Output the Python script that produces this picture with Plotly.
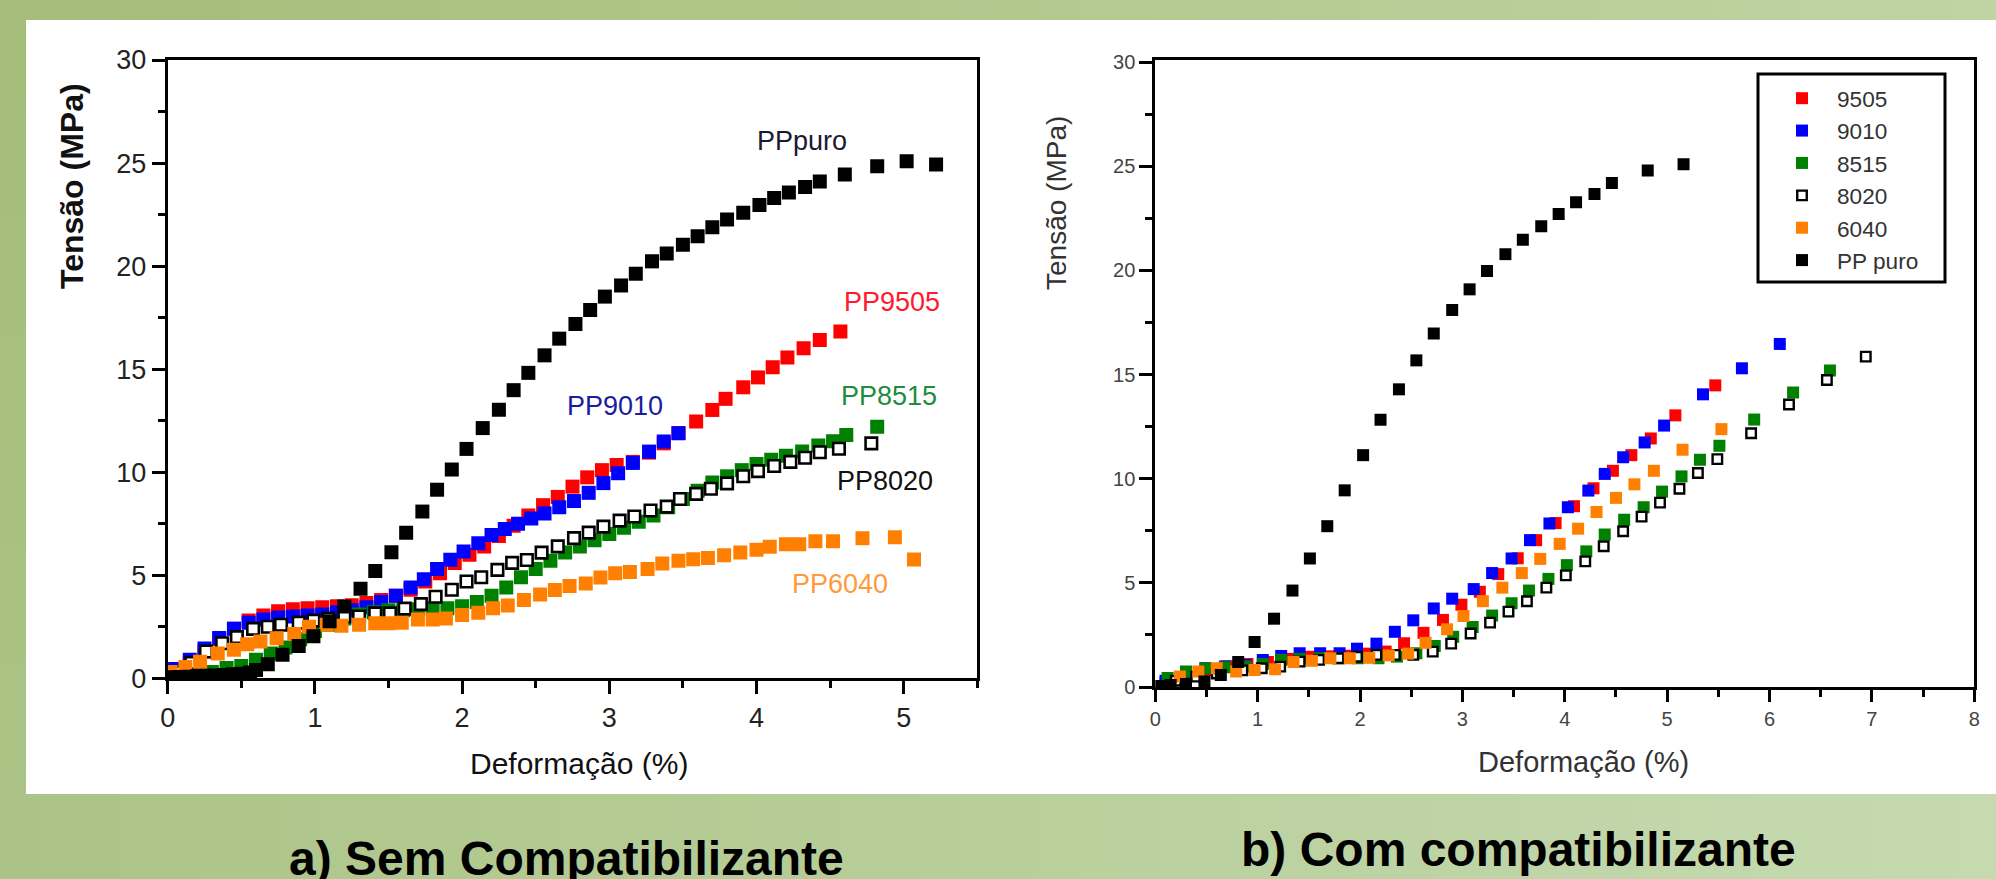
import plotly.graph_objects as go

# ---------------- (a) Sem compatibilizante ----------------
a_9505_x = [0.05,0.15,0.25,0.35,0.45,0.55,0.65,0.75,0.85,0.95,1.05,1.15,1.25,1.35,1.45,1.55,1.65,1.75,1.85,1.95,2.05,2.15,2.25,2.35,2.45,2.55,2.65,2.75,2.85,2.95,3.05,3.16,3.27,3.37,3.47,3.59,3.7,3.79,3.91,4.01,4.11,4.21,4.32,4.43,4.57]
a_9505_y = [0.35,0.75,1.3,1.9,2.4,2.8,3.05,3.25,3.35,3.4,3.45,3.5,3.55,3.65,3.8,4.0,4.3,4.7,5.1,5.6,6.0,6.4,6.9,7.4,7.9,8.4,8.8,9.3,9.75,10.1,10.35,10.5,10.95,11.4,11.9,12.46,13.02,13.56,14.12,14.6,15.09,15.56,16.02,16.42,16.83]

a_9010_x = [0.05,0.15,0.25,0.35,0.45,0.55,0.65,0.75,0.85,0.95,1.05,1.15,1.25,1.35,1.45,1.55,1.65,1.74,1.83,1.92,2.01,2.11,2.2,2.29,2.38,2.47,2.56,2.66,2.76,2.86,2.96,3.06,3.16,3.27,3.37,3.47]
a_9010_y = [0.45,0.9,1.45,1.95,2.4,2.7,2.85,2.95,3.0,3.05,3.1,3.2,3.3,3.45,3.7,4.0,4.4,4.8,5.3,5.75,6.15,6.55,6.95,7.25,7.5,7.75,8.0,8.3,8.6,9.0,9.47,9.95,10.45,11.0,11.49,11.89]

a_8515_x = [0.1,0.2,0.3,0.4,0.5,0.6,0.7,0.8,0.9,1.0,1.1,1.2,1.3,1.4,1.5,1.6,1.7,1.8,1.9,2.0,2.1,2.2,2.3,2.4,2.5,2.6,2.7,2.8,2.9,3.0,3.1,3.2,3.3,3.4,3.5,3.6,3.7,3.8,3.9,4.0,4.1,4.2,4.31,4.42,4.52,4.61,4.82]
a_8515_y = [0.1,0.2,0.3,0.5,0.6,0.9,1.2,1.5,1.9,2.3,2.6,2.9,3.1,3.2,3.3,3.3,3.35,3.4,3.4,3.5,3.7,4.0,4.4,4.9,5.3,5.7,6.1,6.4,6.7,7.0,7.3,7.6,7.9,8.3,8.7,9.1,9.5,9.8,10.1,10.4,10.6,10.8,11.0,11.3,11.5,11.8,12.2]

a_8020_x = [0.05,0.16,0.26,0.37,0.47,0.58,0.68,0.77,0.89,0.99,1.09,1.2,1.3,1.41,1.51,1.61,1.72,1.82,1.93,2.03,2.13,2.24,2.34,2.44,2.54,2.65,2.76,2.86,2.96,3.07,3.17,3.28,3.39,3.48,3.59,3.69,3.8,3.91,4.01,4.12,4.23,4.33,4.43,4.56,4.78]
a_8020_y = [0.3,0.75,1.3,1.7,2.0,2.4,2.5,2.6,2.7,2.8,2.9,3.0,3.0,3.15,3.15,3.38,3.6,3.96,4.3,4.7,4.9,5.26,5.6,5.74,6.1,6.4,6.8,7.07,7.36,7.65,7.85,8.14,8.33,8.7,8.95,9.2,9.46,9.8,10.05,10.3,10.5,10.7,10.97,11.14,11.4]

a_6040_x = [0.02,0.12,0.22,0.34,0.45,0.54,0.63,0.74,0.86,0.96,1.08,1.18,1.3,1.41,1.5,1.59,1.7,1.8,1.89,2.0,2.11,2.21,2.31,2.42,2.53,2.63,2.73,2.84,2.94,3.04,3.14,3.26,3.36,3.47,3.57,3.67,3.78,3.89,4.0,4.09,4.2,4.29,4.4,4.52,4.72,4.94,5.07]
a_6040_y = [0.3,0.55,0.8,1.2,1.38,1.65,1.78,1.94,2.15,2.5,2.6,2.55,2.6,2.67,2.67,2.7,2.85,2.85,2.9,3.07,3.18,3.4,3.53,3.8,4.07,4.29,4.48,4.6,4.89,5.1,5.16,5.3,5.57,5.7,5.78,5.84,5.97,6.1,6.24,6.38,6.5,6.5,6.65,6.65,6.79,6.84,5.76]

a_puro_x = [0.02,0.08,0.14,0.2,0.26,0.32,0.38,0.44,0.5,0.56,0.6,0.68,0.78,0.89,0.99,1.1,1.2,1.31,1.41,1.52,1.62,1.73,1.83,1.93,2.03,2.14,2.25,2.35,2.45,2.56,2.66,2.77,2.87,2.97,3.08,3.18,3.29,3.39,3.5,3.6,3.7,3.8,3.91,4.02,4.12,4.22,4.33,4.43,4.6,4.82,5.02,5.22]
a_puro_y = [0.05,0.06,0.08,0.1,0.12,0.14,0.16,0.2,0.22,0.28,0.4,0.68,1.14,1.57,2.04,2.77,3.48,4.34,5.21,6.11,7.06,8.09,9.15,10.13,11.13,12.14,13.03,13.98,14.82,15.67,16.48,17.19,17.87,18.52,19.06,19.63,20.23,20.61,21.04,21.45,21.88,22.26,22.59,22.97,23.3,23.57,23.84,24.11,24.44,24.84,25.09,24.93]

# ---------------- (b) Com compatibilizante ----------------
b_9505_x = [0.1,0.3,0.5,0.7,0.9,1.1,1.3,1.5,1.7,1.88,2.05,2.25,2.43,2.62,2.81,2.99,3.17,3.35,3.54,3.72,3.91,4.09,4.28,4.47,4.65,4.84,5.08,5.47]
b_9505_y = [0.2,0.5,0.8,1.0,1.1,1.2,1.35,1.45,1.47,1.5,1.6,1.7,2.1,2.6,3.22,3.95,4.57,5.42,6.18,7.05,7.87,8.68,9.54,10.38,11.13,11.93,13.04,14.48]

b_9010_x = [0.1,0.3,0.49,0.68,0.88,1.05,1.23,1.41,1.61,1.8,1.97,2.16,2.34,2.52,2.72,2.9,3.11,3.29,3.48,3.66,3.85,4.03,4.23,4.39,4.57,4.78,4.97,5.35,5.73,6.1]
b_9010_y = [0.3,0.6,0.9,0.98,1.06,1.3,1.49,1.62,1.62,1.62,1.84,2.08,2.65,3.2,3.77,4.24,4.7,5.47,6.17,7.05,7.85,8.63,9.43,10.23,11.03,11.74,12.55,14.05,15.3,16.47]

b_8515_x = [0.12,0.3,0.49,0.68,0.88,1.05,1.23,1.41,1.6,1.79,1.98,2.18,2.36,2.55,2.73,2.91,3.1,3.29,3.48,3.65,3.84,4.02,4.21,4.39,4.58,4.77,4.95,5.14,5.32,5.51,5.85,6.23,6.59]
b_8515_y = [0.43,0.74,0.9,0.95,0.98,1.1,1.3,1.35,1.38,1.38,1.38,1.38,1.46,1.62,1.97,2.41,2.88,3.43,4.02,4.63,5.19,5.85,6.51,7.32,8.03,8.63,9.38,10.11,10.91,11.58,12.84,14.14,15.2]

b_8020_x = [0.2,0.4,0.6,0.85,1.04,1.22,1.41,1.6,1.79,1.97,2.16,2.34,2.52,2.71,2.89,3.08,3.27,3.45,3.63,3.82,4.01,4.2,4.38,4.57,4.75,4.93,5.12,5.3,5.49,5.82,6.19,6.56,6.94]
b_8020_y = [0.3,0.5,0.65,0.8,0.9,0.98,1.22,1.3,1.38,1.45,1.54,1.54,1.54,1.7,2.08,2.57,3.09,3.62,4.12,4.77,5.36,6.03,6.76,7.48,8.18,8.85,9.52,10.27,10.94,12.18,13.56,14.74,15.86]

b_6040_x = [0.24,0.42,0.6,0.79,0.97,1.17,1.35,1.53,1.71,1.9,2.09,2.28,2.47,2.64,2.85,3.01,3.2,3.39,3.58,3.76,3.95,4.13,4.31,4.5,4.68,4.87,5.15,5.53]
b_6040_y = [0.5,0.74,0.9,0.74,0.82,0.85,1.2,1.26,1.38,1.38,1.4,1.52,1.6,2.12,2.77,3.41,4.12,4.77,5.47,6.15,6.87,7.6,8.4,9.08,9.73,10.38,11.39,12.38]

b_puro_x = [0.05,0.15,0.3,0.48,0.64,0.81,0.97,1.16,1.34,1.51,1.68,1.85,2.03,2.2,2.38,2.55,2.72,2.9,3.07,3.24,3.42,3.59,3.77,3.94,4.11,4.29,4.46,4.81,5.16]
b_puro_y = [0.05,0.1,0.15,0.27,0.58,1.2,2.16,3.28,4.63,6.17,7.72,9.44,11.13,12.83,14.29,15.68,16.97,18.1,19.09,19.97,20.78,21.47,22.12,22.71,23.27,23.67,24.2,24.8,25.09]

series_names = ["9505", "9010", "8515", "8020", "6040", "PP puro"]
series_colors = ["#ff0000", "#0000ff", "#008000", "#ffffff", "#ff8000", "#000000"]
x_ticks_a = [0, 1, 2, 3, 4, 5]
x_ticks_b = [0, 1, 2, 3, 4, 5, 6, 7, 8]
y_ticks = [0, 5, 10, 15, 20, 25, 30]

# ---------------- figure ----------------
W, H = 1996, 879
FONT = "Arial, 'Liberation Sans', sans-serif"


def fx(p):
    return p / W


def fy(p):
    return 1 - p / H


fig = go.Figure()

a_sets = [(a_9505_x, a_9505_y), (a_9010_x, a_9010_y), (a_8515_x, a_8515_y),
          (a_8020_x, a_8020_y), (a_6040_x, a_6040_y), (a_puro_x, a_puro_y)]
b_sets = [(b_9505_x, b_9505_y), (b_9010_x, b_9010_y), (b_8515_x, b_8515_y),
          (b_8020_x, b_8020_y), (b_6040_x, b_6040_y), (b_puro_x, b_puro_y)]

for (xs, ys), name, col in zip(a_sets, series_names, series_colors):
    is_open = name == "8020"
    fig.add_trace(go.Scatter(
        x=xs, y=ys, mode="markers", name=name, showlegend=False,
        xaxis="x", yaxis="y",
        marker=dict(symbol="square", size=11.5 if is_open else 14, color=col,
                    line=dict(color="#000000", width=2.6 if is_open else 0)),
    ))

for (xs, ys), name, col in zip(b_sets, series_names, series_colors):
    is_open = name == "8020"
    fig.add_trace(go.Scatter(
        x=xs, y=ys, mode="markers", name=name, showlegend=True,
        xaxis="x2", yaxis="y2",
        marker=dict(symbol="square", size=9.5 if is_open else 12, color=col,
                    line=dict(color="#000000", width=2.4 if is_open else 0)),
    ))

# background gradient (green frame) + white panel
shapes = []
NC, NR = 50, 8
for i in range(NC):
    for j in range(NR):
        x0, x1 = i * W / NC, (i + 1) * W / NC
        y0, y1 = j * H / NR, (j + 1) * H / NR
        tx = (x0 + x1) / 2 / W
        ty = (y0 + y1) / 2 / H
        r = int(164 + 27 * tx + 8 * ty)
        g = int(189 + 23 * tx + 7 * ty)
        b = int(120 + 43 * tx + 15 * ty)
        shapes.append(dict(type="rect", xref="paper", yref="paper", layer="below",
                           x0=fx(x0), x1=fx(x1) + 0.0005, y0=fy(y1) - 0.0005, y1=fy(y0),
                           line=dict(width=0), fillcolor=f"rgb({r},{g},{b})"))
shapes.append(dict(type="rect", xref="paper", yref="paper", layer="below",
                   x0=fx(26), x1=1.0, y0=fy(794), y1=fy(20),
                   line=dict(width=0), fillcolor="#ffffff"))
# legend box
shapes.append(dict(type="rect", xref="paper", yref="paper", layer="above",
                   x0=fx(1758), x1=fx(1945), y0=fy(282), y1=fy(74),
                   line=dict(width=3, color="#000000"), fillcolor="rgba(0,0,0,0)"))

common_axis = dict(showgrid=False, zeroline=False, showline=True, linecolor="#000000",
                   linewidth=3, mirror=True, ticks="outside", tickwidth=3,
                   tickcolor="#000000", automargin=False)


def ann(text, x, y, size, color, angle=0, ref="paper"):
    return dict(text=text, x=x, y=y, xref=ref if ref == "paper" else "x",
                yref=ref if ref == "paper" else "y", showarrow=False,
                xanchor="center", yanchor="middle", textangle=angle,
                font=dict(family=FONT, size=size, color=color))


annotations = [
    # captions
    ann("<b>a) Sem Compatibilizante</b>", fx(566), fy(858), 48, "#000000"),
    ann("<b>b) Com compatibilizante</b>", fx(1518), fy(849), 48, "#000000"),
    # axis titles
    ann("<b>Tensão (MPa)</b>", fx(72), fy(186), 32, "#111111", angle=-90),
    ann("Deformação (%)", fx(579), fy(763), 30, "#111111"),
    ann("Tensão (MPa)", fx(1057), fy(203), 28, "#333333", angle=-90),
    ann("Deformação (%)", fx(1583), fy(762), 29, "#333333"),
    # series labels (panel a)
    ann("PPpuro", 4.31, 26.06, 27, "#1a1a33", ref="data"),
    ann("PP9505", 4.92, 18.27, 27, "#ff1a2e", ref="data"),
    ann("PP8515", 4.90, 13.70, 27, "#1e8c3c", ref="data"),
    ann("PP8020", 4.87, 9.58, 27, "#111111", ref="data"),
    ann("PP9010", 3.04, 13.22, 27, "#1c1ca0", ref="data"),
    ann("PP6040", 4.57, 4.58, 27, "#ff9a3c", ref="data"),
]

fig.update_layout(
    width=W, height=H, autosize=False,
    margin=dict(l=0, r=0, t=0, b=0, pad=0, autoexpand=False),
    paper_bgcolor="rgb(178,202,142)",
    plot_bgcolor="rgba(0,0,0,0)",
    font=dict(family=FONT, color="#222222"),
    shapes=shapes,
    annotations=annotations,
    showlegend=True,
    legend=dict(x=fx(1767), y=fy(77), xanchor="left", yanchor="top",
                bgcolor="rgba(0,0,0,0)", borderwidth=0, itemwidth=60,
                font=dict(family=FONT, size=22.6, color="#333333"),
                tracegroupgap=0),
    xaxis=dict(domain=[fx(167.7), fx(977.3)], range=[0, 5.5], anchor="y",
               tickvals=x_ticks_a, ticklen=13,
               minor=dict(dtick=0.5, ticklen=7, tickwidth=2.5, ticks="outside", tickcolor="#000"),
               tickfont=dict(family=FONT, size=27, color="#222222"), **common_axis),
    yaxis=dict(domain=[fy(678.3), fy(60)], range=[0, 30], anchor="x",
               tickvals=y_ticks, ticklen=13,
               minor=dict(dtick=2.5, ticklen=7, tickwidth=2.5, ticks="outside", tickcolor="#000"),
               tickfont=dict(family=FONT, size=27, color="#222222"), **common_axis),
    xaxis2=dict(domain=[fx(1155.3), fx(1974.3)], range=[0, 8], anchor="y2",
                tickvals=x_ticks_b, ticklen=12,
                minor=dict(dtick=0.5, ticklen=7, tickwidth=2.5, ticks="outside", tickcolor="#000"),
                tickfont=dict(family=FONT, size=20, color="#444444"), **common_axis),
    yaxis2=dict(domain=[fy(687), fy(60)], range=[0, 30.1], anchor="x2",
                tickvals=y_ticks, ticklen=13,
                minor=dict(dtick=2.5, ticklen=7, tickwidth=2.5, ticks="outside", tickcolor="#000"),
                tickfont=dict(family=FONT, size=20, color="#444444"), **common_axis),
)

fig.write_html("out.html", config={"displayModeBar": False},
               post_script="document.body.style.margin='0';document.body.style.overflow='hidden';")
